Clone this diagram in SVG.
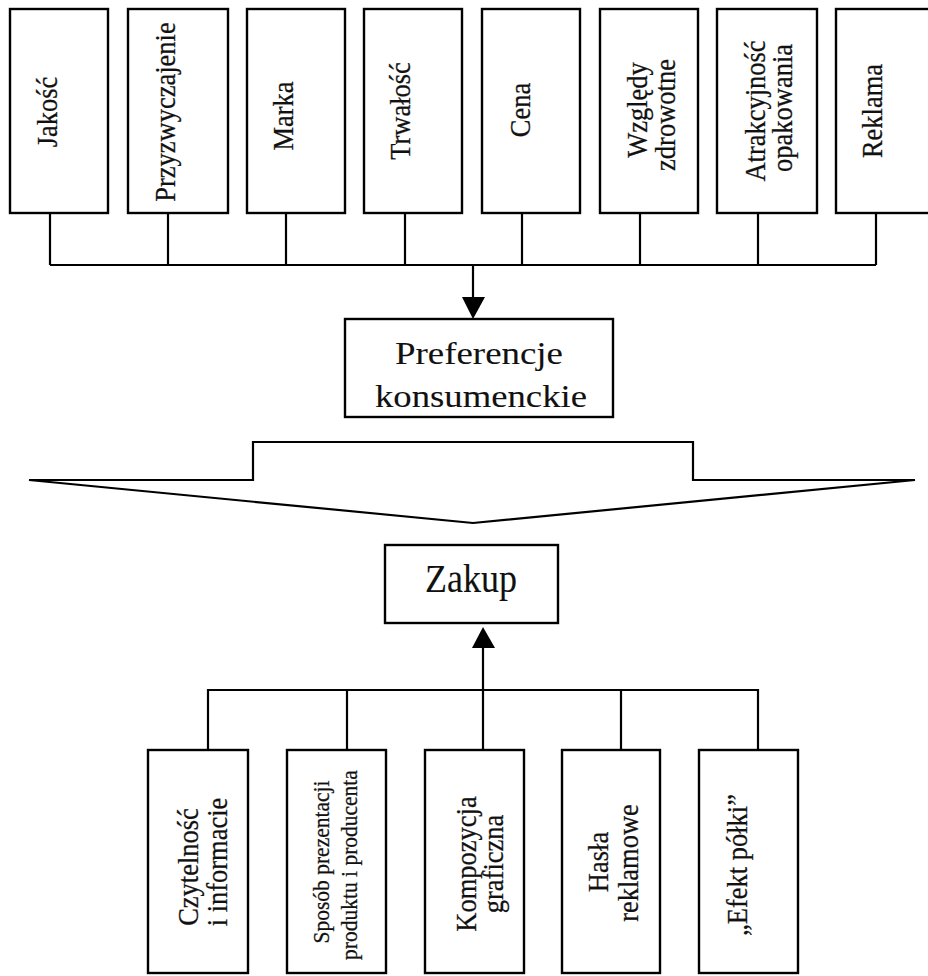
<svg xmlns="http://www.w3.org/2000/svg" width="928" height="976" viewBox="0 0 928 976">
<style>
.box{fill:#fff;stroke:#000;stroke-width:2.4}
.ln{fill:none;stroke:#000;stroke-width:2.2}
.ah{fill:#000;stroke:none}
.t{font-family:"Liberation Serif","Times New Roman",serif;fill:#111;text-anchor:middle;stroke:#111;stroke-width:0.25}
.r{font-size:26.5px}
.s{font-size:21.5px}
.big{stroke-width:0.1}
</style>
<rect width="928" height="976" fill="#fff"/>
<g id="connectors">
<path class="ln" d="M50,213V265M168,213V265M286,213V265M405,213V265M522,213V265M640,213V265M758,213V265M876,213V265M50,265H876"/>
<path class="ln" d="M473,265V300"/>
<polygon class="ah" points="462,297 485,297 473,319"/>
<path class="ln" d="M29,480H253V442H693V480H915L473,523Z"/>
<path class="ln" d="M208,750V690H758V750M347,690V750M483,690V750M621,690V750M483,690V645"/>
<polygon class="ah" points="472,648 495,648 483,627"/>
</g>
<g id="n-jakosc"><rect class="box" x="10" y="9" width="98" height="204"/><text class="t r" transform="translate(57,112) rotate(-90) scale(1,1.12)">Jakość</text></g>
<g id="n-przyzwyczajenie"><rect class="box" x="128" y="9" width="100" height="204"/><text class="t r" transform="translate(175,112) rotate(-90) scale(1,1.12)">Przyzwyczajenie</text></g>
<g id="n-marka"><rect class="box" x="247" y="9" width="98" height="204"/><text class="t r" transform="translate(293,116) rotate(-90) scale(1,1.12)">Marka</text></g>
<g id="n-trwalosc"><rect class="box" x="364" y="9" width="98" height="204"/><text class="t r" transform="translate(410,111) rotate(-90) scale(1,1.12)">Trwałość</text></g>
<g id="n-cena"><rect class="box" x="482" y="9" width="98" height="204"/><text class="t r" transform="translate(530,110) rotate(-90) scale(1,1.12)">Cena</text></g>
<g id="n-wzgledy"><rect class="box" x="600" y="9" width="98" height="204"/><text class="t r" transform="translate(647,110) rotate(-90) scale(1,1.12)">Względy</text><text class="t r" transform="translate(675,115) rotate(-90) scale(1,1.12)">zdrowotne</text></g>
<g id="n-atrakcyjnosc"><rect class="box" x="717" y="9" width="100" height="204"/><text class="t r" transform="translate(765,111) rotate(-90) scale(1,1.12)">Atrakcyjność</text><text class="t r" transform="translate(792,108) rotate(-90) scale(1,1.12)">opakowania</text></g>
<g id="n-reklama"><rect class="box" x="836" y="9" width="98" height="204"/><text class="t r" transform="translate(882,111) rotate(-90) scale(1,1.12)">Reklama</text></g>
<g id="n-preferencje"><rect class="box" x="345" y="319" width="268" height="98"/><text class="t big" x="479" y="364" font-size="32" textLength="168" lengthAdjust="spacingAndGlyphs">Preferencje</text><text class="t big" x="481" y="407" font-size="32" textLength="212" lengthAdjust="spacingAndGlyphs">konsumenckie</text></g>
<g id="n-zakup"><rect class="box" x="385" y="545" width="173" height="78"/><text class="t big" x="471" y="592" font-size="39" textLength="92" lengthAdjust="spacingAndGlyphs">Zakup</text></g>
<g id="n-czytelnosc"><rect class="box" x="148" y="750" width="100" height="223"/><text class="t r" transform="translate(198,867) rotate(-90) scale(1,1.12)">Czytelność</text><text class="t r" transform="translate(227,862) rotate(-90) scale(1,1.12)">i informacie</text></g>
<g id="n-sposob"><rect class="box" x="287" y="750" width="99" height="223"/><text class="t s" transform="translate(329,862) rotate(-90) scale(1,1.12)">Sposób prezentacji</text><text class="t s" transform="translate(357,865) rotate(-90) scale(1,1.12)">produktu i producenta</text></g>
<g id="n-kompozycja"><rect class="box" x="425" y="750" width="99" height="223"/><text class="t r" transform="translate(476,864) rotate(-90) scale(1,1.12)">Kompozycja</text><text class="t r" transform="translate(503,864) rotate(-90) scale(1,1.12)">graficzna</text></g>
<g id="n-hasla"><rect class="box" x="562" y="750" width="98" height="223"/><text class="t r" transform="translate(608,862) rotate(-90) scale(1,1.12)">Hasła</text><text class="t r" transform="translate(638,863) rotate(-90) scale(1,1.12)">reklamowe</text></g>
<g id="n-efekt"><rect class="box" x="699" y="750" width="99" height="223"/><text class="t r" transform="translate(747,865) rotate(-90) scale(1,1.12)">„Efekt półki”</text></g>
</svg>
